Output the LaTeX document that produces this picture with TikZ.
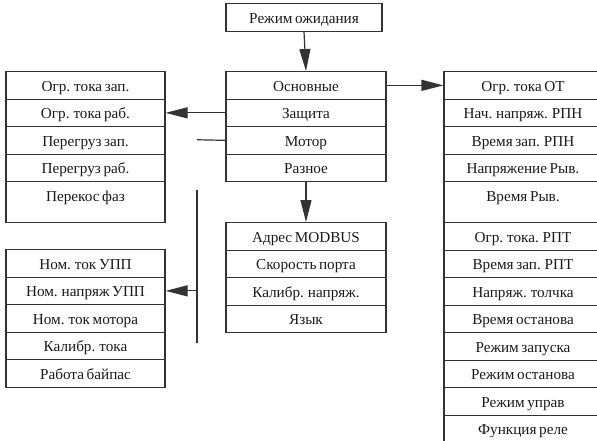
\documentclass[tikz,border=0pt]{standalone}
\usepackage{fontspec}
\setmainfont[WordSpace=0.7]{Liberation Serif}
\usetikzlibrary{arrows.meta}
\definecolor{linec}{HTML}{333333}
\definecolor{txtc}{HTML}{1A1A1A}
\begin{document}
\begin{tikzpicture}[x=1pt,y=-1pt,
  cell/.style={draw=linec, line width=1.2pt, inner xsep=2pt, inner ysep=0pt, anchor=north,
    text height=19.5pt, text depth=8pt, minimum height=27.5pt,
    font=\fontsize{15.2}{16}\selectfont, text=txtc},
  tallcell/.style={cell, text depth=21.5pt, minimum height=41pt},
  conn/.style={draw=linec, line width=1.2pt},
  arr/.style={conn, -{Triangle[length=22pt,width=11pt]}}]
\useasboundingbox (0,0) rectangle (597,440);
\clip (0,0) rectangle (597,440);
% top
\node[cell, minimum width=156pt] (top) at (304,3) {Режим ожидания};
% main menu
\foreach \t [count=\i] in {Основные,Защита,Мотор,Разное}
  \node[cell, minimum width=160pt] (m\i) at (306,{71+27.5*(\i-1)}) {\t};
% left upper
\foreach \t [count=\i] in {Огр. тока зап.,Огр. тока раб.,Перегруз зап.,Перегруз раб.}
  \node[cell, minimum width=159pt] (a\i) at (85.5,{71+27.5*(\i-1)}) {\t};
\node[tallcell, minimum width=159pt] (a5) at (85.5,181) {Перекос фаз};
% left lower
\foreach \t [count=\i] in {Ном. ток УПП,Ном. напряж УПП,Ном. ток мотора,Калибр. тока,Работа байпас}
  \node[cell, minimum width=159pt] (b\i) at (85.5,{249+27.5*(\i-1)}) {\t};
% middle lower
\foreach \t [count=\i] in {Адрес MODBUS,Скорость порта,Калибр. напряж.,Язык}
  \node[cell, minimum width=160pt] (d\i) at (306,{222+27.5*(\i-1)}) {\t};
% right column
\foreach \t [count=\i] in {Огр. тока ОТ,Нач. напряж. РПН,Время зап. РПН,Напряжение Рыв.}
  \node[cell, minimum width=158pt] (r\i) at (523,{71+27.5*(\i-1)}) {\t};
\node[tallcell, minimum width=158pt] (r5) at (523,181) {Время Рыв.};
\foreach \t [count=\i] in {Огр. тока. РПТ,Время зап. РПТ,Напряж. толчка,Время останова,Режим запуска,Режим останова,Режим управ,Функция реле}
  \node[cell, minimum width=158pt] (s\i) at (523,{222+27.5*(\i-1)}) {\t};
% connectors
\coordinate (mend) at (197,139.75);
\coordinate (vtop) at (197,190);
\coordinate (vbot) at (197,343);
\draw[arr] (top.south) -- (m1.north);
\draw[arr] (m1.east) -- (r1.west);
\draw[arr] (m2.west) -- (a2.east);
\draw[conn] (m3.west) -- (mend);
\draw[conn] (vtop) -- (vbot);
\draw[arr] (vtop |- b2.east) -- (b2.east);
\draw[arr] (m4.south) -- (d1.north);
\end{tikzpicture}
\end{document}
